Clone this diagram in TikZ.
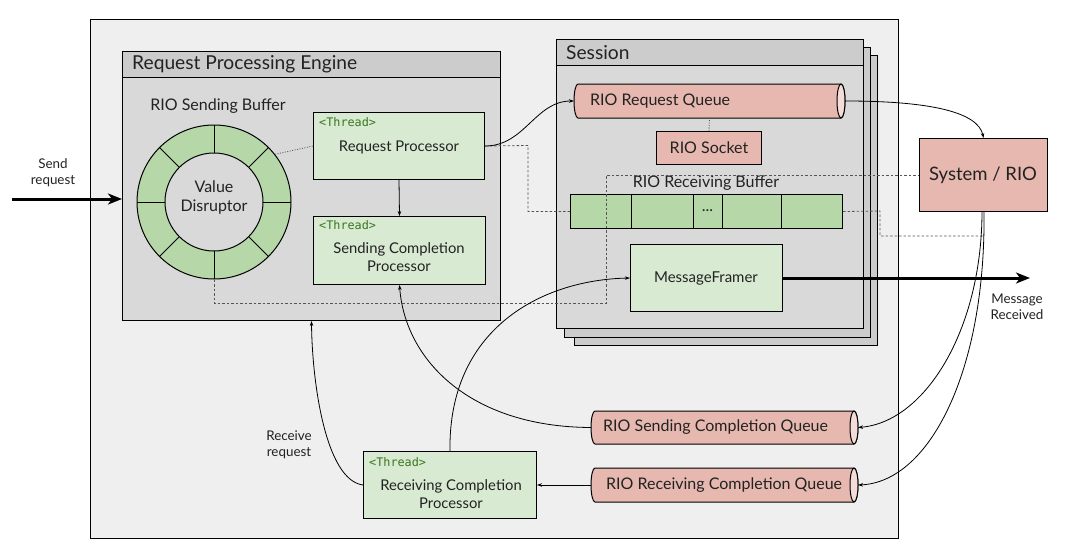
\documentclass[tikz,border=0pt]{standalone}
\usepackage{fontspec}
\setmainfont{Lato}
\newfontfamily\thrfont{DejaVu Sans Mono}
\usetikzlibrary{shapes.geometric,arrows.meta,calc}
\definecolor{bgc}{HTML}{EFEFEF}
\definecolor{panelc}{HTML}{D9D9D9}
\definecolor{hdrc}{HTML}{CCCCCC}
\definecolor{lgreen}{HTML}{D9EAD3}
\definecolor{dgreen}{HTML}{B6D7A8}
\definecolor{redc}{HTML}{E6B8AF}
\definecolor{redend}{HTML}{F4DCD8}
\definecolor{thrc}{HTML}{38761D}
\definecolor{txtc}{HTML}{222222}
\definecolor{dashc}{HTML}{555555}
% cylinder: #1 left x, #2 right x (outer), #3 centre y, #4 half height, #5 cap x radius
\newcommand{\mycyl}[5]{%
  \filldraw[fill=redc, line width=1pt] ({#1+#5},{#3+#4}) -- ({#2-#5},{#3+#4})
    arc[start angle=90, end angle=-90, x radius=#5, y radius=#4]
    -- ({#1+#5},{#3-#4})
    arc[start angle=270, end angle=90, x radius=#5, y radius=#4] -- cycle;
  \filldraw[fill=redend, line width=1pt] ({#2-#5},#3) ellipse[x radius=#5, y radius=#4];}
\begin{document}
\begin{tikzpicture}[x=1pt,y=1pt,
  box/.style={draw, line width=1pt, inner sep=0pt},
  thread/.style={font=\thrfont\fontsize{11.8}{13}\selectfont, text=thrc, anchor=west, inner sep=0pt},
  txt/.style={font=\fontsize{16}{19}\selectfont, text=txtc, align=center, inner sep=0pt},
  btxt/.style={font=\fontsize{14.8}{18}\selectfont, text=txtc, align=center, inner sep=0pt},
  htxt/.style={font=\fontsize{19.2}{22}\selectfont, text=txtc, anchor=west, inner sep=0pt},
  stxt/.style={font=\fontsize{13.4}{16}\selectfont, text=txtc, align=center, inner sep=0pt},
  arr/.style={-{Stealth[length=5pt,width=3.5pt]}, line width=0.8pt},
  bigarr/.style={line width=3pt, -{Stealth[length=14pt,width=11pt,inset=4pt]}},
  dashln/.style={draw=dashc, line width=0.8pt, dash pattern=on 2.5pt off 2pt},
  dotln/.style={draw=dashc, line width=0.8pt, dash pattern=on 1pt off 1.5pt},
  anch/.style={inner sep=0pt, outer sep=0pt}
]
\useasboundingbox (0,0) rectangle (1065,-551);
\fill[white] (0,0) rectangle (1065,-551);

% outer
\node[box, fill=bgc, minimum width=808, minimum height=519, anchor=north west] (outer) at (90,-19) {};

% engine
\node[box, fill=panelc, minimum width=378, minimum height=269, anchor=north west] (eng) at (122,-51) {};
\node[box, fill=hdrc, minimum width=378, minimum height=26, anchor=north west] (enghdr) at (122,-51) {};
\node[htxt] (engt) at (132,-64.5) {Request Processing Engine};
\node[txt] (sbt) at (218,-106) {RIO Sending Buffer};

% ring
\node[circle, draw, line width=1pt, fill=dgreen, minimum size=154, inner sep=0pt] (ring) at (214,-202) {};
\foreach \a in {0,45,...,315}
  \draw[line width=1pt] ($(214,-202)+(\a:49)$) -- ($(214,-202)+(\a:77)$);
\node[circle, draw, line width=1pt, fill=panelc, minimum size=98, inner sep=0pt] (vd) at (214,-202) {};
\node[txt, font=\fontsize{16}{19}\selectfont] (vdt) at (214,-197.5) {Value\\Disruptor};

% thread boxes
\node[box, fill=lgreen, minimum width=171, minimum height=67, anchor=north west] (rp) at (313,-112) {};
\node[thread] (rpth) at (319,-122) {<Thread>};
\node[btxt] (rpt) at (399,-147) {Request Processor};

\node[box, fill=lgreen, minimum width=172, minimum height=68, anchor=north west] (scp) at (313,-216) {};
\node[thread] (scpth) at (319,-225) {<Thread>};
\node[btxt] (scpt) at (399,-257) {Sending Completion\\Processor};

\node[box, fill=lgreen, minimum width=173, minimum height=67, anchor=north west] (rcp) at (363,-451) {};
\node[thread] (rcpth) at (369,-462) {<Thread>};
\node[btxt] (rcpt) at (451,-494.5) {Receiving Completion\\Processor};

% session stack
\node[box, fill=hdrc, minimum width=303, minimum height=290, anchor=north west] (ses3) at (574,-55) {};
\node[box, fill=hdrc, minimum width=306, minimum height=290, anchor=north west] (ses2) at (564,-47) {};
\node[box, fill=panelc, minimum width=307, minimum height=289, anchor=north west] (ses) at (556,-39) {};
\node[box, fill=hdrc, minimum width=307, minimum height=26, anchor=north west] (seshdr) at (556,-39) {};
\node[htxt] (sest) at (566,-53) {Session};

\mycyl{574}{845}{-101}{17}{4}
\node[anch, minimum width=271, minimum height=34] (rqq) at (709.5,-101) {};
\node[txt, anchor=west] (rqqt) at (590,-101) {RIO Request Queue};
\node[box, fill=redc, minimum width=105, minimum height=33, anchor=north west] (sock) at (656,-131) {};
\node[txt] (sockt) at (709,-147.5) {RIO Socket};
\draw[dotln] (sock.north) -- (rqq.south);

\node[txt] (rbt) at (706,-183) {RIO Receiving Buffer};
\node[box, fill=dgreen, minimum width=272, minimum height=34, anchor=north west] (buf) at (570,-194) {};
\foreach \xx in {631,693,722,781}
  \draw[line width=1pt] (\xx,-194) -- (\xx,-228);
\node[txt] (dots) at (707.5,-211) {...};

\node[box, fill=lgreen, minimum width=152, minimum height=67, anchor=north west] (mf) at (630,-244) {};
\node[btxt, font=\fontsize{15}{18}\selectfont] (mft) at (706,-278) {MessageFramer};

% system
\node[box, fill=redc, minimum width=128, minimum height=73, anchor=north west] (sys) at (919,-138) {};
\node[txt, font=\fontsize{18.5}{21}\selectfont] (syst) at (983,-175) {System / RIO};

% completion queues
\mycyl{591}{858}{-427.5}{16.5}{4}
\node[anch, minimum width=267, minimum height=33] (scq) at (724.5,-427.5) {};
\node[txt, anchor=west] (scqt) at (603,-427) {RIO Sending Completion Queue};
\mycyl{591}{858}{-485}{17}{4}
\node[anch, minimum width=267, minimum height=34] (rcq) at (724.5,-485) {};
\node[txt, anchor=west] (rcqt) at (606,-485) {RIO Receiving Completion Queue};

% labels
\node[stxt] (sendl) at (53,-173) {Send\\request};
\node[stxt] (msgl) at (1017,-307) {Message\\Received};
\node[stxt] (recvl) at (289,-445) {Receive\\request};

% coordinates
\coordinate (sendstart) at (12,-199);
\coordinate (sendend) at (122,-199);
\coordinate (msgend) at (1030,-278);
\coordinate (dashend) at (983,-236);

% thick arrows
\draw[bigarr] (sendstart) -- (sendend);
\draw[bigarr] (mf.east) -- (msgend);

% dashed / dotted
\draw[dotln] (ring.38) -- (rp.west);
\draw[dashln] (ring.south) |- (606,-303) |- (sys.west);
\draw[dashln] (rp.east) -- (528,-145.5) |- (buf.west);
\draw[dashln] (buf.east) -- (880,-211) |- (dashend);

% curves
\draw[arr] (rp.east) .. controls (525,-146) and (535,-101) .. (rqq.west);
\draw[arr] (rp.south) -- (scp.north);
\draw[arr] (rqq.east) .. controls (930,-101) and (978,-112) .. (sys.north);
\draw[arr] (982,-211) .. controls (982,-330) and (925,-422) .. (scq.east);
\draw[arr] (984,-211) .. controls (986,-370) and (930,-482) .. (rcq.east);
\draw[arr] (scq.west) .. controls (470,-427) and (405,-360) .. (scp.south);
\draw[arr] (rcq.west) -- (rcp.east);
\draw[arr] (rcp.west) .. controls (325,-480) and (312,-380) .. (eng.south);
\draw[arr] (rcp.north) .. controls (448,-330) and (540,-280) .. (mf.west);
\end{tikzpicture}
\end{document}
